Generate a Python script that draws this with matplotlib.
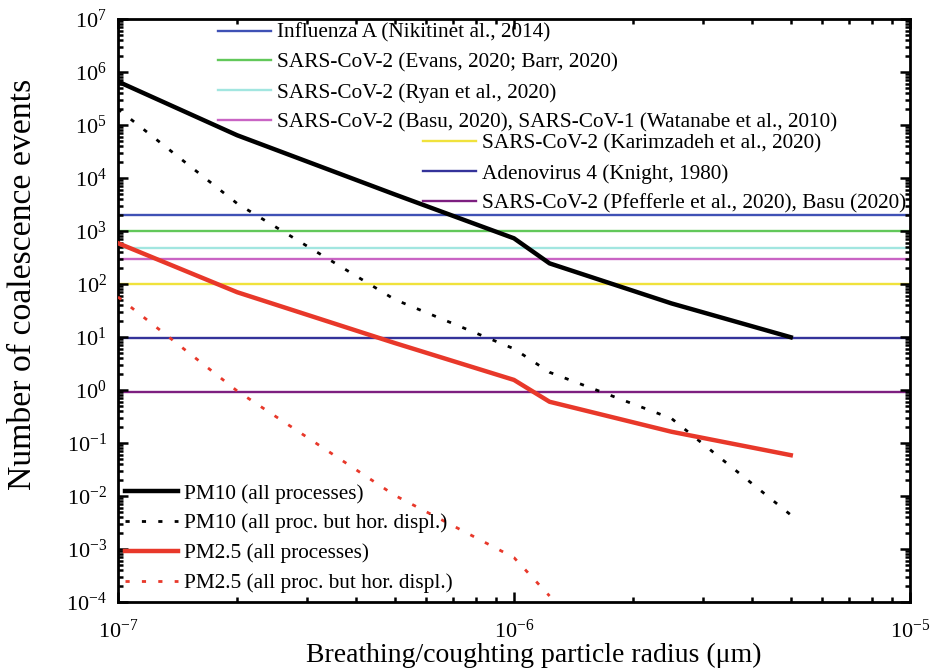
import numpy as np
import matplotlib.pyplot as plt
from matplotlib.lines import Line2D
from matplotlib.ticker import LogLocator, NullFormatter

plt.rcParams['font.family'] = ['Liberation Serif', 'DejaVu Serif']
plt.rcParams['mathtext.fontset'] = 'custom'
plt.rcParams['mathtext.rm'] = 'Liberation Serif'
plt.rcParams['mathtext.it'] = 'Liberation Serif:italic'
plt.rcParams['axes.unicode_minus'] = False

# particle radius grid and coalescence events
radius = [1e-7, 2e-7, 5e-7, 1e-6, 1.23e-6, 2.5e-6, 5e-6]
pm10_all = [6.6e5, 6.4e4, 4.9e3, 728, 245, 43, 9.9]
pm10_nohor = [2.0e5, 3.3e3, 51, 6.0, 2.16, 0.29, 4.4e-3]
pm25_all = [590, 70, 7.7, 1.55, 0.6, 0.163, 0.059]
radius_pm25_nohor = [1e-7, 2e-7, 5e-7, 1e-6, 1.23e-6]
pm25_nohor = [57, 0.96, 0.0103, 6.9e-4, 1.3e-4]

# reference levels (viral load)
virus_labels = ['Influenza A (Nikitinet al., 2014)',
                'SARS-CoV-2 (Evans, 2020; Barr, 2020)',
                'SARS-CoV-2 (Ryan et al., 2020)',
                'SARS-CoV-2 (Basu, 2020), SARS-CoV-1 (Watanabe et al., 2010)',
                'SARS-CoV-2 (Karimzadeh et al., 2020)',
                'Adenovirus 4 (Knight, 1980)',
                'SARS-CoV-2 (Pfefferle et al., 2020), Basu (2020)']
virus_levels = [2000, 1000, 470, 300, 100, 9.5, 0.9]
virus_colors = ['#3f51b5', '#62c85a', '#a2e6e0', '#c964c4', '#f0e23c', '#34339a', '#7d1f80']

fig = plt.figure(figsize=(9.31, 6.71), dpi=100)
ax = fig.add_axes([0.1267, 0.1028, 0.8507, 0.8689])
ax.set_xscale('log')
ax.set_yscale('log')

virus_handles = []
for lev, col, lab in zip(virus_levels, virus_colors, virus_labels):
    ax.axhline(lev, color=col, lw=1.7, zorder=1)
    virus_handles.append(Line2D([], [], color=col, lw=1.7, label=lab))

dot = (0, (1.5, 4.4))
h1, = ax.plot(radius, pm10_all, color='black', lw=3.2, label='PM10 (all processes)', zorder=3)
h2, = ax.plot(radius, pm10_nohor, color='black', lw=2, ls=dot, dash_capstyle='butt',
              label='PM10 (all proc. but hor. displ.)', zorder=3)
h3, = ax.plot(radius, pm25_all, color='#e8382a', lw=3.2, label='PM2.5 (all processes)', zorder=3)
h4, = ax.plot(radius_pm25_nohor, pm25_nohor, color='#e8382a', lw=2, ls=dot, dash_capstyle='butt',
              label='PM2.5 (all proc. but hor. displ.)', zorder=3)

ax.set_xlim(1e-7, 1e-5)
ax.set_ylim(1e-4, 1e7)
ax.set_yticks([10.0 ** k for k in range(-4, 8)])
ax.set_xticks([1e-7, 1e-6, 1e-5])
for axis in (ax.xaxis, ax.yaxis):
    axis.set_minor_locator(LogLocator(base=10, subs=np.arange(2, 10), numticks=100))
    axis.set_minor_formatter(NullFormatter())
ax.tick_params(which='both', direction='in', top=True, right=True, width=1.8)
ax.tick_params(which='major', length=7, labelsize=16)
ax.tick_params(which='minor', length=3.5)
ax.tick_params(axis='y', pad=8)
ax.tick_params(axis='x', pad=13)
for s in ax.spines.values():
    s.set_linewidth(2)

ax.set_xlabel('Breathing/coughting particle radius (\u03bcm)', fontsize=20)
ax.xaxis.set_label_coords(0.5246, -0.0703)
ax.set_ylabel('Number of coalescence events', fontsize=24.3)
ax.yaxis.set_label_coords(-0.101, 0.545)

leg_kw = dict(frameon=False, fontsize=15.3, handlelength=2.5, handletextpad=0.28,
              labelspacing=0.47, borderpad=0, borderaxespad=0, loc='upper left')
leg1 = ax.legend(handles=virus_handles[:4], bbox_to_anchor=(0.126, 0.993), **leg_kw)
ax.add_artist(leg1)
leg2 = ax.legend(handles=virus_handles[4:], bbox_to_anchor=(0.3855, 0.803), **leg_kw)
ax.add_artist(leg2)
ax.legend(handles=[h1, h2, h3, h4], bbox_to_anchor=(0.009, 0.203), **leg_kw)

fig.savefig('out.png', dpi=100)
